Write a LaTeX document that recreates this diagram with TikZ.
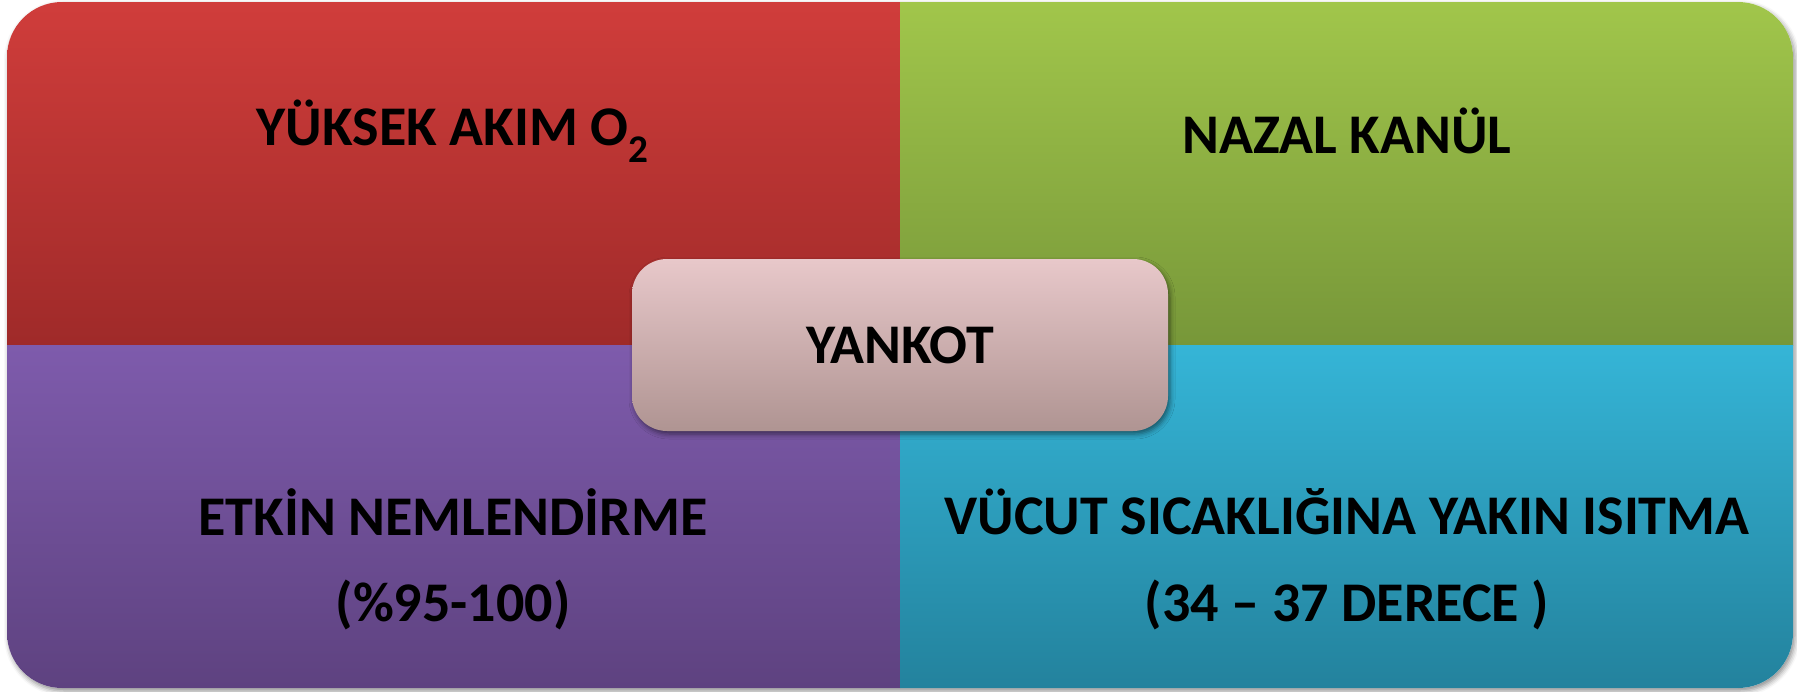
\documentclass[tikz,border=0pt]{standalone}
\usepackage{fontspec}
\setmainfont{Carlito}
\usetikzlibrary{shadows.blur}

\definecolor{redTop}{HTML}{D03D3B}
\definecolor{redBot}{HTML}{9F2A29}
\definecolor{grnTop}{HTML}{A1C64B}
\definecolor{grnBot}{HTML}{779739}
\definecolor{purTop}{HTML}{7E5BAC}
\definecolor{purBot}{HTML}{5E4280}
\definecolor{bluTop}{HTML}{35B5D7}
\definecolor{bluBot}{HTML}{23829D}
\definecolor{boxTop}{HTML}{E8C8CA}
\definecolor{boxBot}{HTML}{AF9492}

\tikzset{
  label text/.style={font=\fontsize{56}{66}\selectfont\bfseries, text=black, align=center},
  quadrant/.style={draw=none},
}

\begin{document}
\begin{tikzpicture}[x=1pt,y=-1pt]
\useasboundingbox (0,0) rectangle (1797,691);

% drop shadow of the whole panel
\path[rounded corners=55pt, fill=white,
      blur shadow={shadow xshift=2pt, shadow yshift=-3pt, shadow blur radius=5pt, shadow opacity=45}]
  (7,2) rectangle (1793,688);

% four coloured quadrants inside the rounded panel
\begin{scope}
  \clip[rounded corners=55pt] (7,2) rectangle (1793,688);
  \shade[quadrant, top color=redTop, bottom color=redBot] (7,2) rectangle (900,345);
  \shade[quadrant, top color=grnTop, bottom color=grnBot] (900,2) rectangle (1793,345);
  \shade[quadrant, top color=purTop, bottom color=purBot] (7,345) rectangle (900,688);
  \shade[quadrant, top color=bluTop, bottom color=bluBot] (900,345) rectangle (1793,688);
\end{scope}

% quadrant texts
\node[label text] (flow) at (453,131) {YÜKSEK AKIM O\textsubscript{2}};
\node[label text] (nasal) at (1347,131) {NAZAL KANÜL};
\node[label text] (humid) at (453,512) {ETKİN NEMLENDİRME};
\node[label text] (humidval) at (453,605) {(\%95-100)};
\node[label text] (heat) at (1347,512) {VÜCUT SICAKLIĞINA YAKIN ISITMA};
\node[label text] (heatval) at (1347,605) {(34 – 37 DERECE )};

% central box
\shade[rounded corners=35pt, top color=boxTop, bottom color=boxBot,
       blur shadow={shadow xshift=2pt, shadow yshift=-3pt, shadow blur radius=5pt, shadow opacity=50}]
  (632,259) rectangle (1168,431);
\node[label text] (center) at (900,345) {YANKOT};
\end{tikzpicture}
\end{document}
